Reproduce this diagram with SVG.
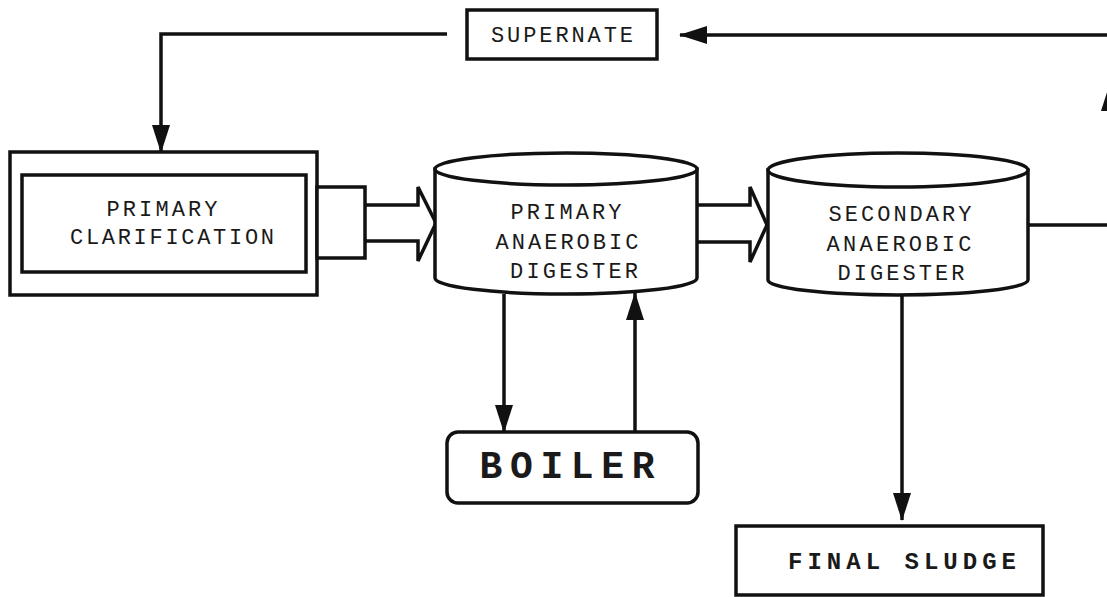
<svg xmlns="http://www.w3.org/2000/svg" width="1107" height="597" viewBox="0 0 1107 597">
<style>
.bg{fill:#ffffff}
.box{fill:#ffffff;stroke:#111;stroke-width:3.5}
.ln{fill:none;stroke:#111;stroke-width:3.5}
.blk{fill:#ffffff;stroke:#111;stroke-width:3.5;stroke-linejoin:miter}
.t{font-family:"Liberation Mono","DejaVu Sans Mono",monospace;font-size:22px;fill:#1a1a1a;text-anchor:middle}
.tb{font-family:"Liberation Mono","DejaVu Sans Mono",monospace;font-weight:bold;fill:#1a1a1a;text-anchor:middle}
</style>
<defs>
<marker id="ah" viewBox="0 0 28 18" refX="27" refY="9" markerWidth="28" markerHeight="18" markerUnits="userSpaceOnUse" orient="auto">
<path d="M0,0 L28,9 L0,18 Z" fill="#111"/>
</marker>
</defs>
<rect class="bg" x="0" y="0" width="1107" height="597"/>

<g id="connectors">
<path class="ln" d="M447,34 H161 V152" marker-end="url(#ah)"/>
<path class="ln" d="M1028,225 H1110 V35 H680" marker-end="url(#ah)"/>
<path class="ln" d="M1110,130 V84" marker-end="url(#ah)"/>
<path class="blk" d="M365,205 L418,205 L418,187 L436,223 L418,261 L418,241 L365,241"/>
<path class="blk" d="M697,205 L750,205 L750,187 L767,225 L750,262 L750,242 L697,242"/>
<path class="ln" d="M504,294 V432" marker-end="url(#ah)"/>
<path class="ln" d="M635,432 V293" marker-end="url(#ah)"/>
<path class="ln" d="M902,295 V520" marker-end="url(#ah)"/>
</g>

<g id="supernate">
<rect class="box" x="467" y="10" width="190" height="49"/>
<text class="t" x="562" y="42" textLength="142" lengthAdjust="spacing">SUPERNATE</text>
</g>

<g id="primary-clarification">
<rect class="box" x="10" y="152" width="307" height="143"/>
<rect class="box" x="22" y="175" width="284" height="97"/>
<rect class="box" x="317" y="187" width="48" height="71"/>
<text class="t" x="162" y="216" textLength="111" lengthAdjust="spacing">PRIMARY</text>
<text class="t" x="172" y="244" textLength="204" lengthAdjust="spacing">CLARIFICATION</text>
</g>

<g id="primary-digester">
<path class="box" d="M435,169 L435,278 A131,16 0 0,0 697,278 L697,169 Z"/>
<ellipse class="box" cx="566" cy="169" rx="131" ry="16"/>
<text class="t" x="566" y="219" textLength="111" lengthAdjust="spacing">PRIMARY</text>
<text class="t" x="567" y="249" textLength="143" lengthAdjust="spacing">ANAEROBIC</text>
<text class="t" x="574" y="278" textLength="128" lengthAdjust="spacing">DIGESTER</text>
</g>

<g id="secondary-digester">
<path class="box" d="M768,170 L768,280 A130,15 0 0,0 1028,280 L1028,170 Z"/>
<ellipse class="box" cx="898" cy="170" rx="130" ry="17"/>
<text class="t" x="900" y="221" textLength="143" lengthAdjust="spacing">SECONDARY</text>
<text class="t" x="899" y="251" textLength="145" lengthAdjust="spacing">ANAEROBIC</text>
<text class="t" x="901" y="280" textLength="127" lengthAdjust="spacing">DIGESTER</text>
</g>

<g id="boiler">
<rect class="box" x="447" y="432" width="251" height="71" rx="11" ry="11"/>
<text class="tb" x="567" y="478" font-size="38" textLength="175" lengthAdjust="spacing">BOILER</text>
</g>

<g id="final-sludge">
<rect class="box" x="736" y="526" width="307" height="69"/>
<text class="tb" x="902" y="569" font-size="24" textLength="228" lengthAdjust="spacing">FINAL SLUDGE</text>
</g>
</svg>
